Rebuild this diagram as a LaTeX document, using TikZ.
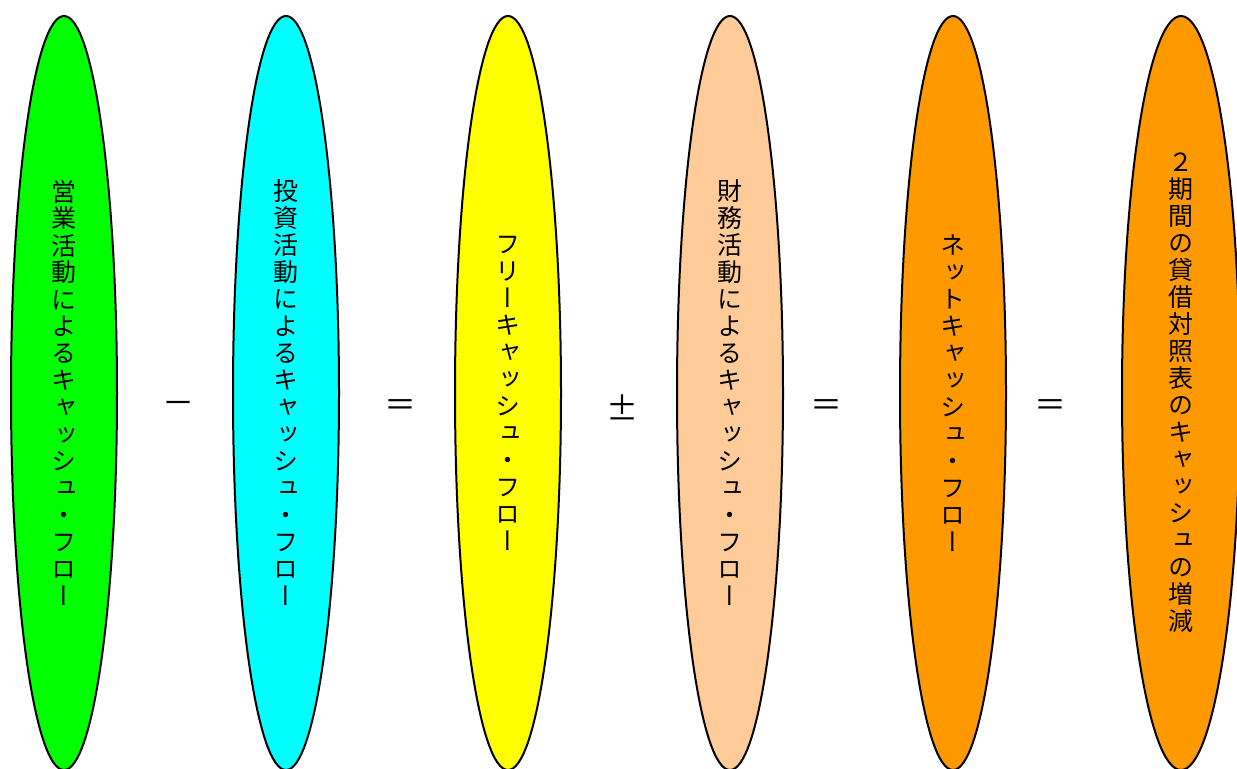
\documentclass[tikz,border=0pt]{standalone}
\usepackage{fontspec}
\usepackage{xcolor}
\usepackage{tikz}
\usetikzlibrary{shapes.geometric}

\newfontfamily\jpfont[RawFeature=+vert]{Noto Sans CJK JP}
\newfontfamily\signfont{Noto Sans CJK JP}
\definecolor{opgreen}{HTML}{00FF00}
\definecolor{invcyan}{HTML}{00FFFF}
\definecolor{freeyellow}{HTML}{FFFF00}
\definecolor{finpeach}{HTML}{FFCC99}
\definecolor{netorange}{HTML}{FF9900}

\begin{document}
\begin{tikzpicture}[x=0.5pt,y=-0.5pt,
  flow/.style={ellipse,draw,line width=1pt,minimum width=53pt,minimum height=377pt,inner sep=0pt,align=center,font=\jpfont\fontsize{12.5pt}{13.5pt}\selectfont},
  sign/.style={font=\signfont\fontsize{16pt}{16pt}\selectfont}
]
\useasboundingbox (0,0) rectangle (1237,769);

\node[flow,fill=opgreen] (operating) at (64,393) {営\\業\\活\\動\\に\\よ\\る\\キ\\ャ\\ッ\\シ\\ュ\\・\\フ\\ロ\\ー};
\node[flow,fill=invcyan] (investing) at (286,393) {投\\資\\活\\動\\に\\よ\\る\\キ\\ャ\\ッ\\シ\\ュ\\・\\フ\\ロ\\ー};
\node[flow,fill=freeyellow] (free) at (508,393) {フ\\リ\\ー\\キ\\ャ\\ッ\\シ\\ュ\\・\\フ\\ロ\\ー};
\node[flow,fill=finpeach] (financing) at (730,393) {財\\務\\活\\動\\に\\よ\\る\\キ\\ャ\\ッ\\シ\\ュ\\・\\フ\\ロ\\ー};
\node[flow,fill=netorange] (net) at (953,393) {ネ\\ッ\\ト\\キ\\ャ\\ッ\\シ\\ュ\\・\\フ\\ロ\\ー};
\node[flow,fill=netorange,minimum width=59pt] (balance) at (1181,393) {２\\期\\間\\の\\貸\\借\\対\\照\\表\\の\\キ\\ャ\\ッ\\シ\\ュ\\の\\増\\減};

\node[sign] (minus) at (178,408) {－};
\node[sign] (eqa) at (400,408) {＝};
\node[sign] (pm) at (622,408) {±};
\node[sign] (eqb) at (826,408) {＝};
\node[sign] (eqc) at (1050,408) {＝};

\end{tikzpicture}
\end{document}
